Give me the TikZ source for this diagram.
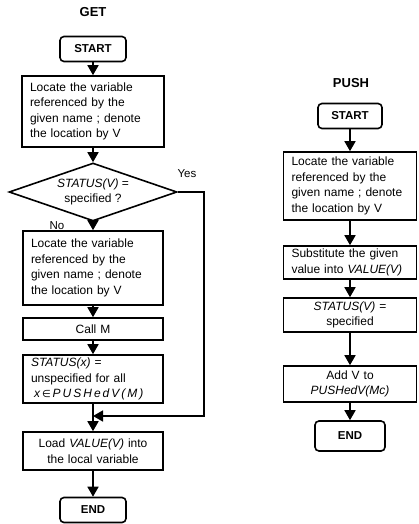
\documentclass[tikz,border=0pt]{standalone}
\usepackage{fontspec}
\setmainfont{Liberation Sans}
\newfontfamily\symfont{DejaVu Sans}
\usetikzlibrary{shapes.geometric,arrows.meta}
\begin{document}
\begin{tikzpicture}[x=1pt,y=-1pt,
  every node/.style={font=\fontsize{12}{15.5}\selectfont},
  proc/.style={draw,line width=1.6pt,inner xsep=8pt,inner ysep=0pt},
  terminal/.style={draw,line width=1.6pt,rounded corners=4pt,
    font=\bfseries\fontsize{11.5}{13}\selectfont,minimum width=66pt,minimum height=25pt},
  decision/.style={draw,line width=1.6pt,diamond,aspect=2.9,inner sep=0pt,
    minimum width=168pt,minimum height=58pt,align=center},
  flow/.style={line width=1.6pt,-{Triangle[length=10pt,width=11pt]}},
  heading/.style={font=\bfseries\fontsize{13}{15}\selectfont},
  answer/.style={font=\fontsize{11.5}{13}\selectfont}
]
\useasboundingbox (0,0) rectangle (418,524);

% ---------------- GET ----------------
\node[heading] (gett) at (93,12) {GET};
\node[terminal] (gs) at (93,49) {START};
\node[proc,text width=126pt,minimum height=71pt,align=left] (g1) at (93,111.5)
  {Locate the variable\\referenced by the\\given name ; denote\\the location by V};
\node[decision] (gd) at (93,192) {\textit{STATUS(V)} =\\specified ?};
\node[proc,text width=124pt,minimum height=74pt,align=left] (g2) at (93,268)
  {Locate the variable\\referenced by the\\given name ; denote\\the location by V};
\node[proc,text width=124pt,minimum height=22pt,align=center] (gm) at (93,329) {Call M};
\node[proc,text width=124pt,minimum height=48pt,align=left] (gx) at (93,379)
  {\textit{STATUS(x)} =\\unspecified for all\\\hspace*{3pt}\textit{x\,{\symfont\upshape\fontsize{10}{12}\selectfont∈}\,P\,U\,S\,H\,e\,d\,V\,(\,M\,)}};
\node[proc,text width=124pt,minimum height=38pt,align=center] (gl) at (93,451)
  {Load \textit{VALUE(V)} into\\the local variable};
\node[terminal] (ge) at (93,510) {END};

\node[answer] (yes) at (187,174) {Yes};
\node[answer] (no) at (57,226) {No};

\coordinate (gr) at (204,416);
\coordinate (join) at (93,416);

\draw[flow] (gs) -- (g1);
\draw[flow] (g1) -- (gd);
\draw[flow] (gd) -- (g2);
\draw[flow] (g2) -- (gm);
\draw[flow] (gm) -- (gx);
\draw[flow] (gx) -- (gl);
\draw[flow] (gl) -- (ge);
\draw[flow] (gd.east) -| (gr) -- (join);

% ---------------- PUSH ----------------
\node[heading] (pusht) at (351,83) {PUSH};
\node[terminal,minimum width=64pt] (ps) at (350,116) {START};
\node[proc,text width=117pt,minimum height=68pt,align=left] (p1) at (350,186)
  {Locate the variable\\referenced by the\\given name ; denote\\the location by V};
\node[proc,text width=117pt,minimum height=33pt,align=left] (p2) at (350,262.5)
  {Substitute the given\\value into \textit{VALUE(V)}};
\node[proc,text width=117pt,minimum height=34pt,align=center] (p3) at (350,315)
  {\textit{STATUS(V)} =\\specified};
\node[proc,text width=117pt,minimum height=36pt,align=center] (p4) at (350,384)
  {Add V to\\\textit{PUSHedV(Mc)}};
\node[terminal,minimum width=70pt,minimum height=30pt] (pe) at (350,436) {END};

\draw[flow] (ps) -- (p1);
\draw[flow] (p1) -- (p2);
\draw[flow] (p2) -- (p3);
\draw[flow] (p3) -- (p4);
\draw[flow] (p4) -- (pe);
\end{tikzpicture}
\end{document}
